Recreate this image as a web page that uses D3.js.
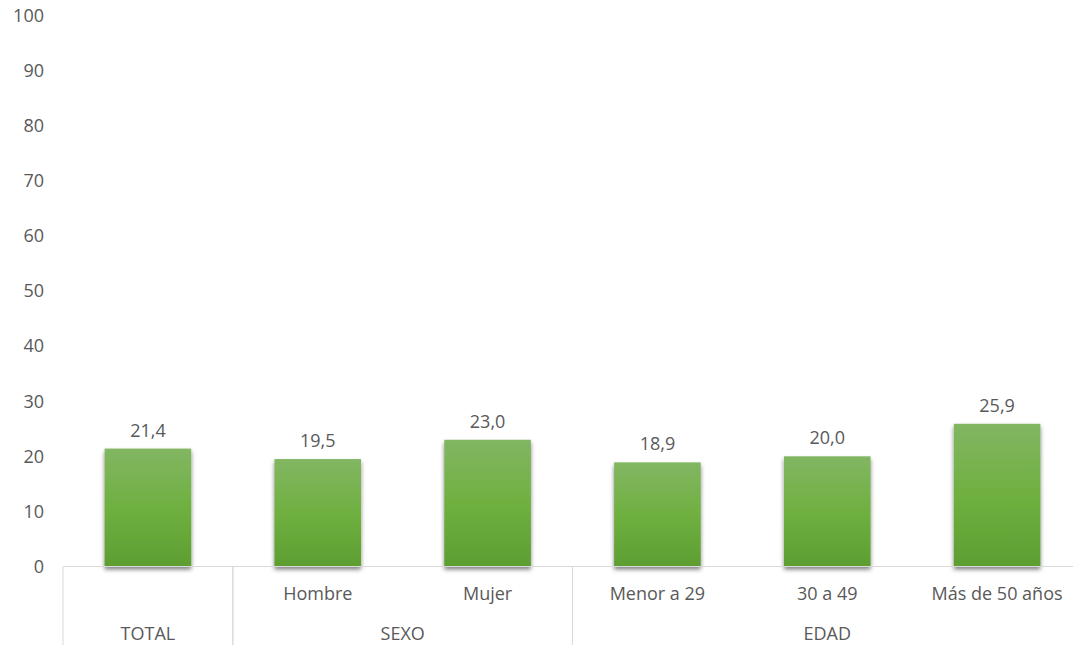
<!DOCTYPE html>
<html><head><meta charset="utf-8">
<script src="https://cdn.jsdelivr.net/npm/d3@7"></script>
<style>body{margin:0;background:#fff}svg{display:block}text{font-family:"Open Sans",sans-serif;fill:#595959}</style>
</head><body>
<svg id="c" width="1073" height="645"></svg>
<script>
const categories = ["TOTAL_", "Hombre", "Mujer", "Menor a 29", "30 a 49", "Más de 50 años"];
const catLabels = ["", "Hombre", "Mujer", "Menor a 29", "30 a 49", "Más de 50 años"];
const values = [21.4, 19.5, 23.0, 18.9, 20.0, 25.9];
const groups = [{name:"TOTAL", from:0, to:0},{name:"SEXO", from:1, to:2},{name:"EDAD", from:3, to:5}];
const yTicks = [0,10,20,30,40,50,60,70,80,90,100];

const svg = d3.select("#c");
const plotLeft = 63, plotRight = 1082, plotTop = 15.5, plotBottom = 566.5;
const x = d3.scaleBand().domain(categories).range([plotLeft, plotRight]).paddingInner(0.49).paddingOuter(0.245);
const y = d3.scaleLinear().domain([0,100]).range([plotBottom, plotTop]);
const step = x.step();

const defs = svg.append("defs");
const g = defs.append("linearGradient").attr("id","gr").attr("x1",0).attr("x2",0).attr("y1",0).attr("y2",1);
g.append("stop").attr("offset","0%").attr("stop-color","#82b663");
g.append("stop").attr("offset","50%").attr("stop-color","#6fb040");
g.append("stop").attr("offset","100%").attr("stop-color","#5d9e32");
const f = defs.append("filter").attr("id","sh").attr("x","-20%").attr("y","-20%").attr("width","140%").attr("height","140%");
f.append("feDropShadow").attr("dx",0).attr("dy",3).attr("stdDeviation",2).attr("flood-color","#000").attr("flood-opacity",0.5);

// y tick labels
svg.append("g").selectAll("text").data(yTicks).join("text")
  .attr("x", 44).attr("y", d => y(d)).attr("dy","0.35em").attr("text-anchor","end")
  .attr("font-size", 18).text(d => d);

// bars
svg.append("g").selectAll("rect").data(values).join("rect")
  .attr("x", (d,i) => x(categories[i])).attr("width", x.bandwidth())
  .attr("y", d => y(d)).attr("height", d => y(0) - y(d))
  .attr("fill","url(#gr)").attr("filter","url(#sh)");

// value labels
svg.append("g").selectAll("text").data(values).join("text")
  .attr("x", (d,i) => x(categories[i]) + x.bandwidth()/2).attr("y", d => y(d) - 12)
  .attr("text-anchor","middle").attr("font-size",18)
  .text(d => d.toFixed(1).replace(".", ","));

// axis line
svg.append("line").attr("x1", plotLeft).attr("x2", plotRight).attr("y1", y(0)).attr("y2", y(0))
  .attr("stroke","#d9d9d9").attr("stroke-width",1);

// group dividers
const bandStart = i => x(categories[i]) - step*x.paddingInner()/2;
groups.forEach(gr => {
  const xs = bandStart(gr.from), xe = bandStart(gr.to) + step;
  svg.append("line").attr("x1", xs).attr("x2", xs).attr("y1", y(0)).attr("y2", 645)
    .attr("stroke","#d9d9d9").attr("stroke-width",1);
  svg.append("line").attr("x1", xe).attr("x2", xe).attr("y1", y(0)).attr("y2", 645)
    .attr("stroke","#d9d9d9").attr("stroke-width",1);
  svg.append("text").attr("x", (xs+xe)/2).attr("y", 640).attr("text-anchor","middle")
    .attr("font-size",18).text(gr.name);
});

// category labels
svg.append("g").selectAll("text").data(catLabels).join("text")
  .attr("x", (d,i) => x(categories[i]) + x.bandwidth()/2).attr("y", 600)
  .attr("text-anchor","middle").attr("font-size",18).text(d => d);
</script>
</body></html>
